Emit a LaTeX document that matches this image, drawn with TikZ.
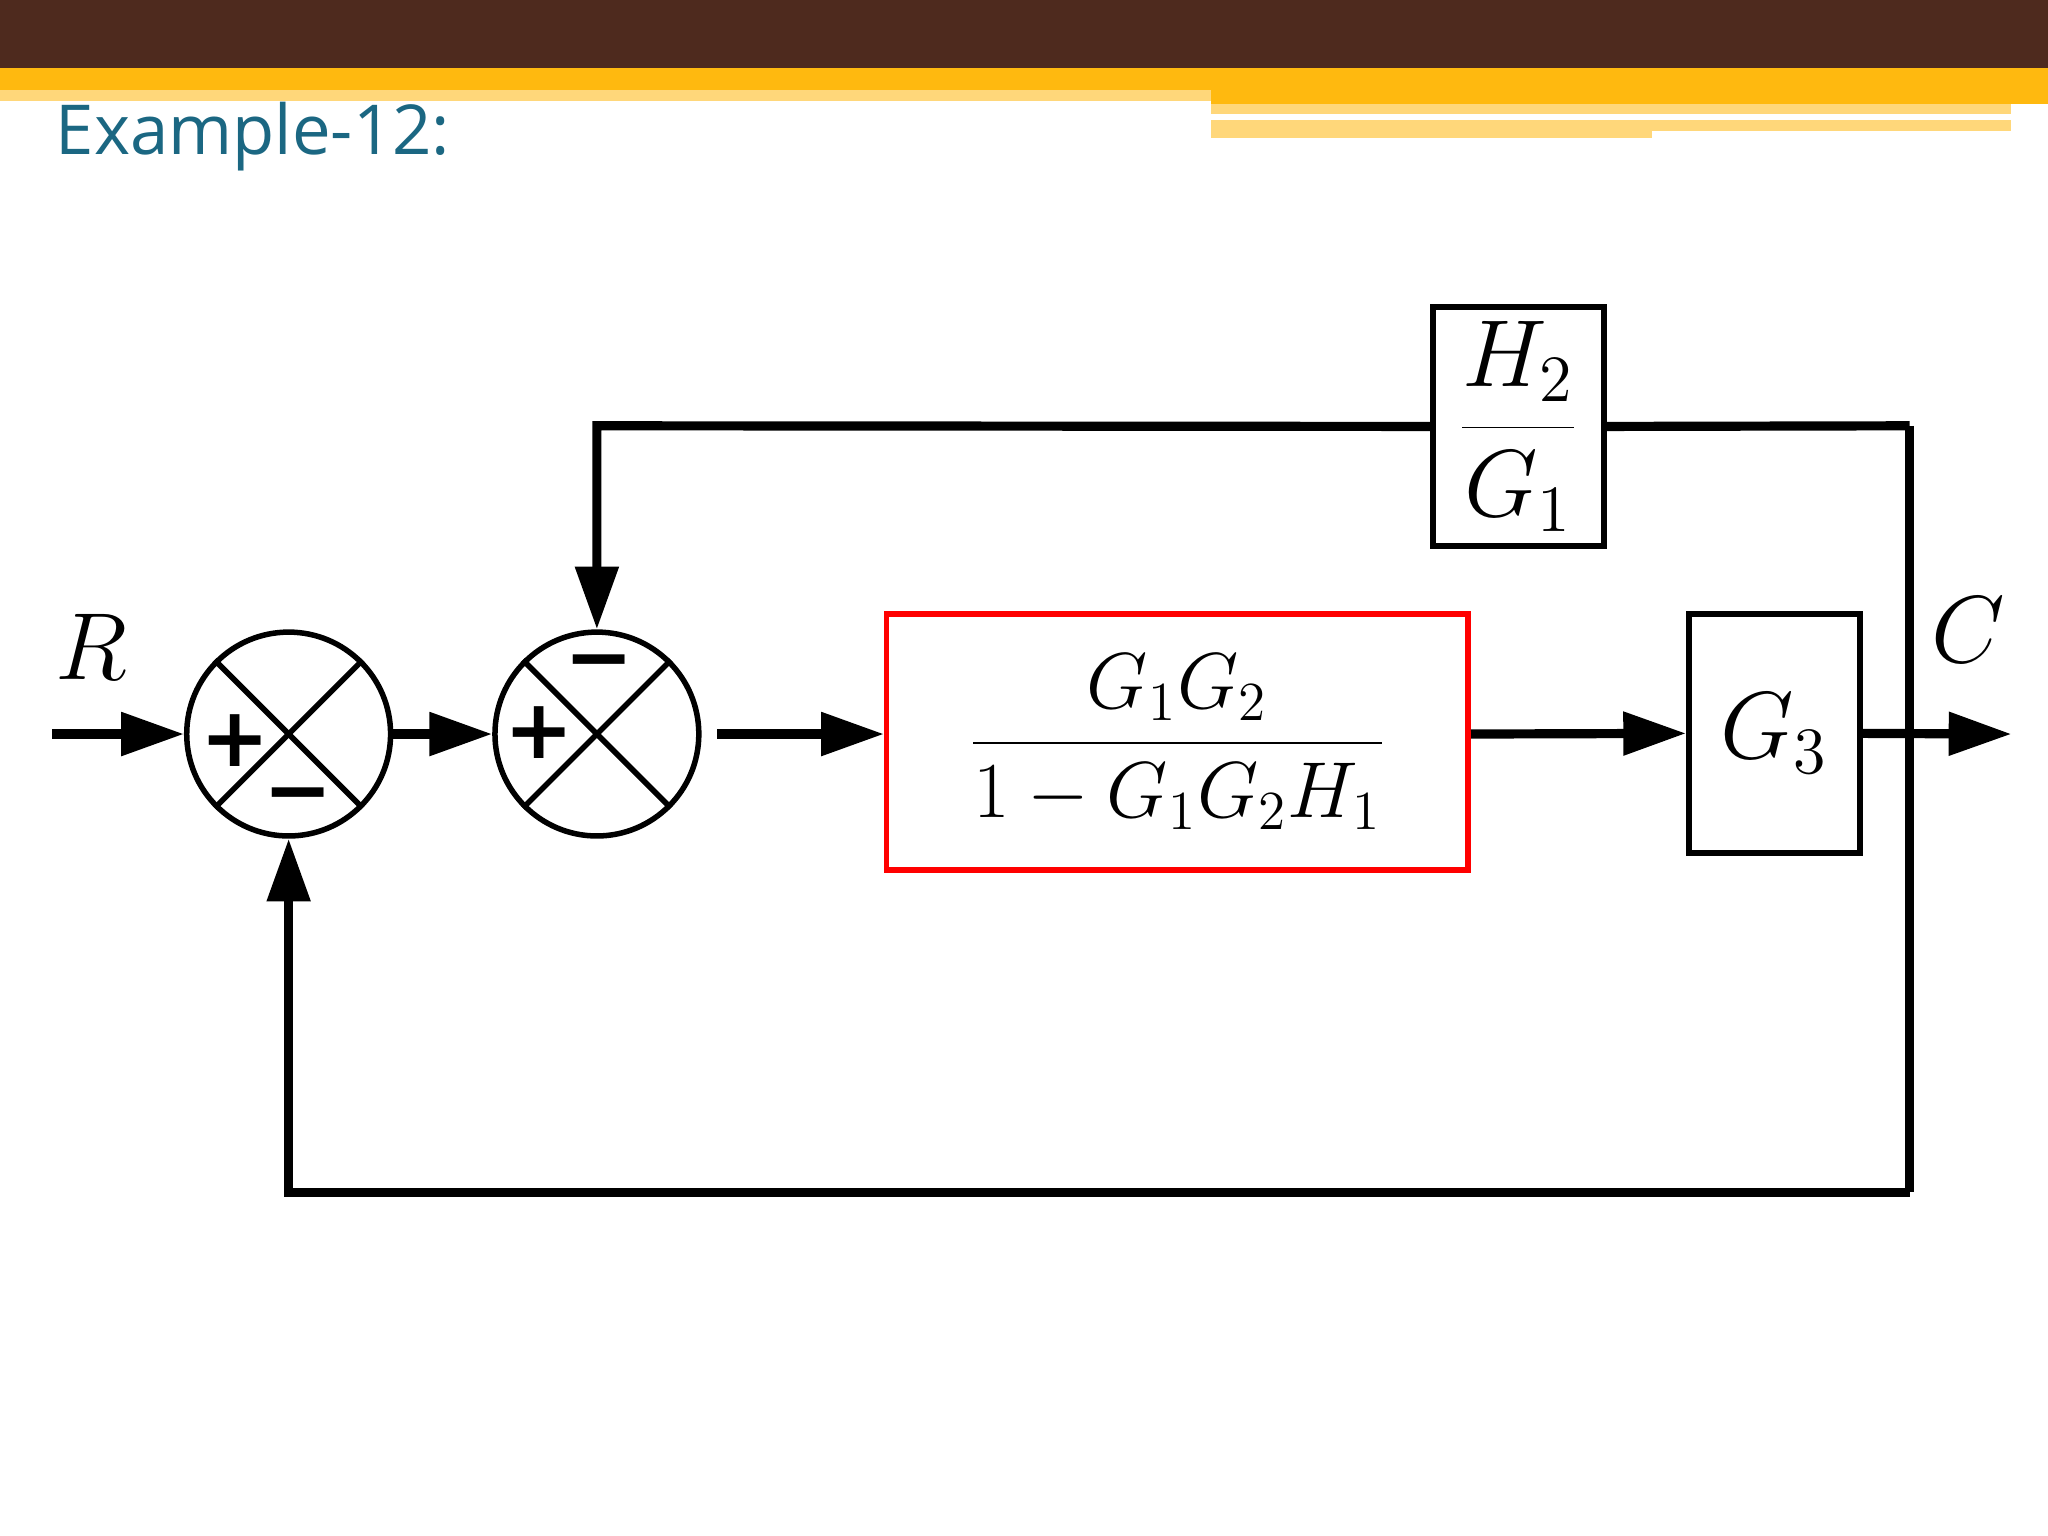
\documentclass[tikz,border=0pt]{standalone}
\usepackage{fontspec}
\newfontfamily\titlefont{Open Sans}
\newfontfamily\signfont{DejaVu Sans}
\usetikzlibrary{arrows.meta}
\definecolor{brownbar}{HTML}{4E2A1E}
\definecolor{gold}{HTML}{FFB90F}
\definecolor{pale}{HTML}{FFD77A}
\definecolor{teal}{HTML}{1B6782}
\tikzset{
  wire/.style={line width=2pt},
  arr/.style={wire,-{Triangle[length=0.48cm,width=0.32cm]}},
  sumj/.style={circle,draw,line width=1.2pt,minimum size=1.56cm,inner sep=0pt},
  blk/.style={draw,line width=1.2pt,inner sep=0pt},
  big/.style={font=\fontsize{21}{25}\selectfont},
  mid/.style={font=\fontsize{18}{22}\selectfont},
  sgn/.style={font=\signfont\bfseries\fontsize{18}{18}\selectfont}
}
\begin{document}
\begin{tikzpicture}[x=0.01cm,y=-0.01cm]
\useasboundingbox (0,0) rectangle (1568,1176);
% header
\fill[brownbar] (0,0) rectangle (1568,52);
\fill[gold] (0,52) rectangle (1568,69);
\fill[pale] (0,69) rectangle (927,77);
\fill[gold] (927,69) rectangle (1568,80);
\fill[pale] (927,80) rectangle (1540,87);
\fill[pale] (927,92) rectangle (1265,106);
\fill[pale] (1265,92) rectangle (1540,100);
\node[anchor=base west,text=teal,font=\titlefont\fontsize{15}{18}\selectfont,inner sep=0pt] (title) at (42,118) {Example-12:};
% junctions
\node[sumj] (s1) at (221,562) {};
\node[sumj] (s2) at (457,562) {};
\foreach \s in {s1,s2}{
  \draw[line width=1.2pt] (\s.45) -- (\s.225);
  \draw[line width=1.2pt] (\s.135) -- (\s.315);
}
\node[sgn] (p1) at (180,567) {+};
\node[sgn] (m1) at (228,615) {−};
\node[sgn] (p2) at (413,561) {+};
\node[sgn] (m2) at (459,513) {−};
% blocks
\node[blk,draw=red,minimum width=4.45cm,minimum height=1.96cm,mid] (g12) at (901.5,568) {$\displaystyle\frac{G_1G_2}{1-G_1G_2H_1}$};
\node[blk,minimum width=1.31cm,minimum height=1.83cm,big] (g3) at (1358.5,561.5) {$G_3$};
\node[blk,minimum width=1.31cm,minimum height=1.83cm,big] (h2) at (1162.5,326.5) {$\displaystyle\frac{H_2}{G_1}$};
% signals
\coordinate (in) at (40,562);
\coordinate (out) at (1540,562);
\coordinate (s2o) at (549,562);
\coordinate (tr) at (1462,326);
\coordinate (br) at (1462,913);
\coordinate (bl) at (221,913);
\coordinate (tl) at (457,326);
\node[big] (R) at (70,495) {$R$};
\node[big] (C) at (1507,482) {$C$};
\draw[arr] (in) -- (s1.west);
\draw[arr] (s1.east) -- (s2.west);
\draw[arr] (s2o) -- (s2o -| g12.west);
\draw[arr] (s2o -| g12.east) -- (g3.west);
\draw[arr] (g3.east) -- (out);
\draw[wire] (tr) -- (br);
\draw[arr] (br) -- (bl) -- (s1.south);
\draw[wire] (tr) -- (h2.east);
\draw[arr] (h2.west) -- (tl) -- (s2.north);
\end{tikzpicture}
\end{document}
